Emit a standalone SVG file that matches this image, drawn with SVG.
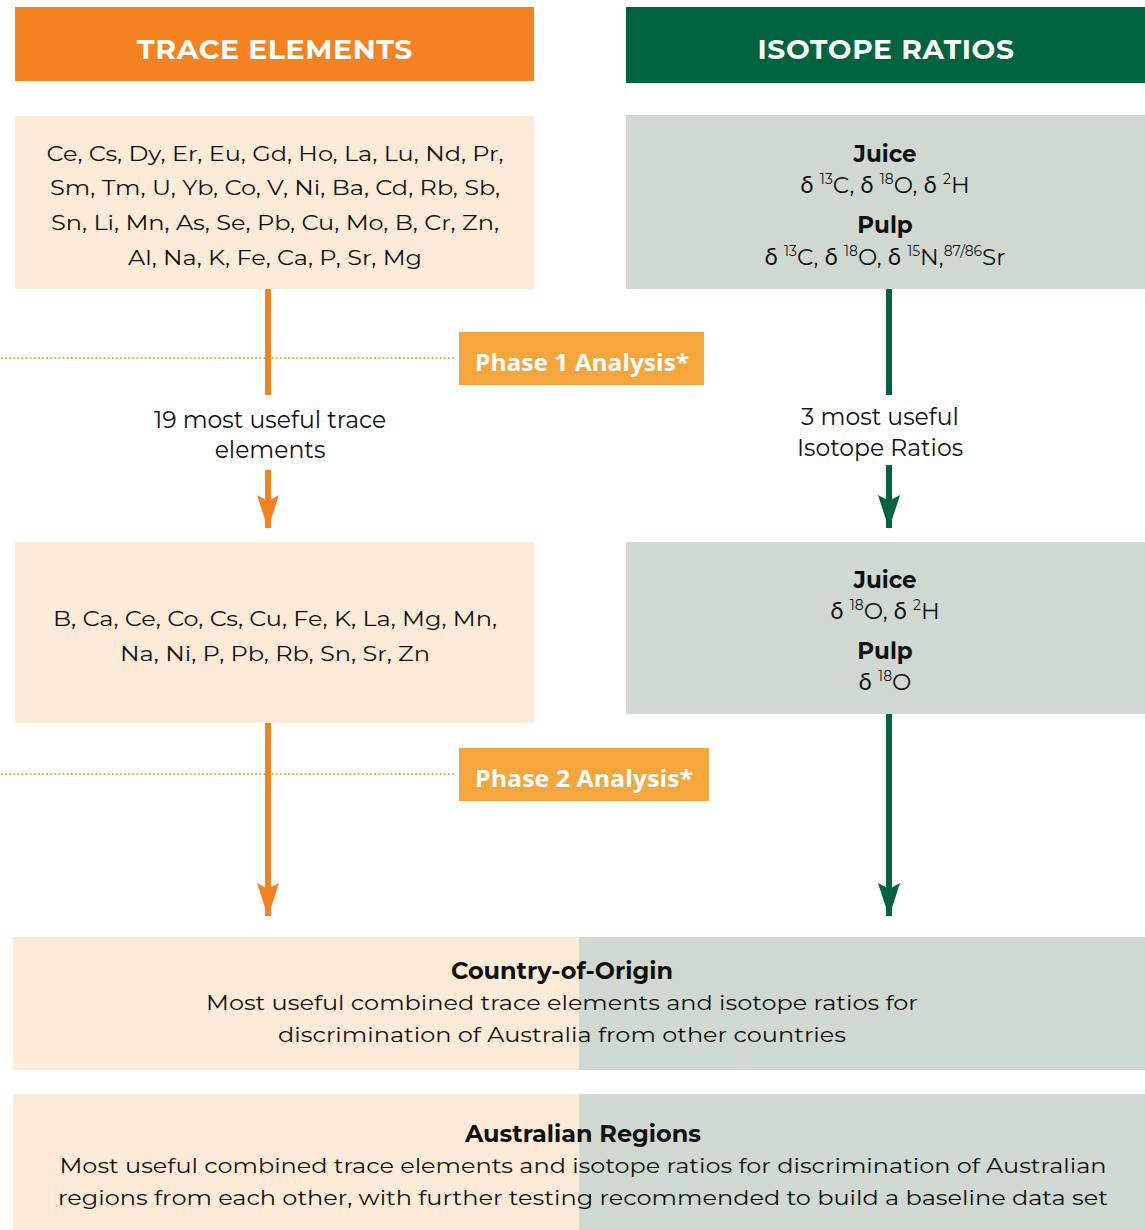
<svg xmlns="http://www.w3.org/2000/svg" width="1145" height="1230" viewBox="0 0 1145 1230">
<style>
text{font-family:Montserrat,"Inter","Liberation Sans",sans-serif;fill:#111;text-anchor:middle}
.hdr{font-size:28px;font-weight:700;fill:#fff;letter-spacing:0.6px}
.body{font-size:21px}
.iso{font-size:23px}
.mid{font-size:23.5px}
.bold{font-size:23px;font-weight:700}
.phase{font-size:23px;font-weight:700;fill:#fff;font-family:"Open Sans","Liberation Sans",sans-serif}
.sup{font-size:14px}
.peach{fill:#FDEBD8}
.sage{fill:#CFD9D1}
.ph{fill:#F4A53C}
.oline{stroke:#F58220;stroke-width:6;fill:none}
.gline{stroke:#00653E;stroke-width:6;fill:none}
.dot{stroke:#F4A53C;stroke-width:2.2;stroke-dasharray:0.1 4;stroke-linecap:round;fill:none}
</style>
<defs>
<marker id="ao" markerUnits="userSpaceOnUse" viewBox="0 0 34 22" markerWidth="34" markerHeight="22" refX="33" refY="11" orient="auto">
<path d="M0,0 L34,11 L0,22 L6,11 Z" fill="#F58220"/>
</marker>
<marker id="ag" markerUnits="userSpaceOnUse" viewBox="0 0 34 22" markerWidth="34" markerHeight="22" refX="33" refY="11" orient="auto">
<path d="M0,0 L34,11 L0,22 L6,11 Z" fill="#00653E"/>
</marker>
</defs>

<g id="header-trace">
<rect x="15" y="7" width="519" height="74" fill="#F58220"/>
<text class="hdr" x="275" y="59" textLength="276" lengthAdjust="spacingAndGlyphs">TRACE ELEMENTS</text>
</g>
<g id="header-isotope">
<rect x="626" y="7" width="519" height="76" fill="#00653E"/>
<text class="hdr" x="886" y="59" textLength="257" lengthAdjust="spacingAndGlyphs">ISOTOPE RATIOS</text>
</g>

<g id="trace-all">
<rect class="peach" x="15" y="116" width="519" height="173"/>
<text class="body" x="275" y="161" textLength="457" lengthAdjust="spacingAndGlyphs">Ce, Cs, Dy, Er, Eu, Gd, Ho, La, Lu, Nd, Pr,</text>
<text class="body" x="275" y="195" textLength="450" lengthAdjust="spacingAndGlyphs">Sm, Tm, U, Yb, Co, V, Ni, Ba, Cd, Rb, Sb,</text>
<text class="body" x="275" y="230" textLength="448" lengthAdjust="spacingAndGlyphs">Sn, Li, Mn, As, Se, Pb, Cu, Mo, B, Cr, Zn,</text>
<text class="body" x="275" y="265" textLength="294" lengthAdjust="spacingAndGlyphs">Al, Na, K, Fe, Ca, P, Sr, Mg</text>
</g>

<g id="isotope-all">
<rect class="sage" x="626" y="115" width="519" height="174"/>
<text class="bold" x="885" y="162">Juice</text>
<text class="iso" x="885" y="193">δ <tspan class="sup" dy="-9">13</tspan><tspan dy="9">C, δ </tspan><tspan class="sup" dy="-9">18</tspan><tspan dy="9">O, δ </tspan><tspan class="sup" dy="-9">2</tspan><tspan dy="9">H</tspan></text>
<text class="bold" x="885" y="233">Pulp</text>
<text class="iso" x="885" y="265">δ <tspan class="sup" dy="-9">13</tspan><tspan dy="9">C, δ </tspan><tspan class="sup" dy="-9">18</tspan><tspan dy="9">O, δ </tspan><tspan class="sup" dy="-9">15</tspan><tspan dy="9">N,</tspan><tspan class="sup" dy="-9">87/86</tspan><tspan dy="9">Sr</tspan></text>
</g>

<g id="phase1">
<rect class="ph" x="459" y="332" width="245" height="53"/>
<text class="phase" x="582" y="371" textLength="214" lengthAdjust="spacingAndGlyphs">Phase 1 Analysis*</text>
</g>

<g id="trace-19-label">
<text class="mid" x="270" y="428">19 most useful trace</text>
<text class="mid" x="270" y="458">elements</text>
</g>
<g id="isotope-3-label">
<text class="mid" x="880" y="425">3 most useful</text>
<text class="mid" x="880" y="456">Isotope Ratios</text>
</g>

<g id="trace-19">
<rect class="peach" x="15" y="542" width="519" height="181"/>
<text class="body" x="275" y="626" textLength="444" lengthAdjust="spacingAndGlyphs">B, Ca, Ce, Co, Cs, Cu, Fe, K, La, Mg, Mn,</text>
<text class="body" x="275" y="661" textLength="310" lengthAdjust="spacingAndGlyphs">Na, Ni, P, Pb, Rb, Sn, Sr, Zn</text>
</g>

<g id="isotope-3">
<rect class="sage" x="626" y="542" width="519" height="172"/>
<text class="bold" x="885" y="588">Juice</text>
<text class="iso" x="885" y="619">δ <tspan class="sup" dy="-9">18</tspan><tspan dy="9">O, δ </tspan><tspan class="sup" dy="-9">2</tspan><tspan dy="9">H</tspan></text>
<text class="bold" x="885" y="659">Pulp</text>
<text class="iso" x="885" y="690">δ <tspan class="sup" dy="-9">18</tspan><tspan dy="9">O</tspan></text>
</g>

<g id="phase2">
<rect class="ph" x="459" y="748" width="250" height="53"/>
<text class="phase" x="584" y="787" textLength="218" lengthAdjust="spacingAndGlyphs">Phase 2 Analysis*</text>
</g>

<g id="connectors">
<line class="dot" x1="2" y1="358" x2="457" y2="358"/>
<line class="dot" x1="2" y1="774" x2="457" y2="774"/>
<line class="oline" x1="268" y1="289" x2="268" y2="395"/>
<line class="oline" x1="268" y1="470" x2="268" y2="528" marker-end="url(#ao)"/>
<line class="gline" x1="889" y1="289" x2="889" y2="395"/>
<line class="gline" x1="889" y1="465" x2="889" y2="528" marker-end="url(#ag)"/>
<line class="oline" x1="268" y1="723" x2="268" y2="916" marker-end="url(#ao)"/>
<line class="gline" x1="889" y1="714" x2="889" y2="916" marker-end="url(#ag)"/>
</g>

<g id="country-of-origin">
<rect class="peach" x="13" y="937" width="566" height="133"/>
<rect class="sage" x="579" y="937" width="566" height="133"/>
<text class="bold" x="562" y="979" textLength="222" lengthAdjust="spacingAndGlyphs">Country-of-Origin</text>
<text class="body" x="562" y="1010" textLength="712" lengthAdjust="spacingAndGlyphs">Most useful combined trace elements and isotope ratios for</text>
<text class="body" x="562" y="1042" textLength="568" lengthAdjust="spacingAndGlyphs">discrimination of Australia from other countries</text>
</g>

<g id="australian-regions">
<rect class="peach" x="13" y="1094" width="566" height="136"/>
<rect class="sage" x="579" y="1094" width="566" height="136"/>
<text class="bold" x="583" y="1142" textLength="236" lengthAdjust="spacingAndGlyphs">Australian Regions</text>
<text class="body" x="583" y="1173" textLength="1047" lengthAdjust="spacingAndGlyphs">Most useful combined trace elements and isotope ratios for discrimination of Australian</text>
<text class="body" x="583" y="1205" textLength="1050" lengthAdjust="spacingAndGlyphs">regions from each other, with further testing recommended to build a baseline data set</text>
</g>
</svg>
